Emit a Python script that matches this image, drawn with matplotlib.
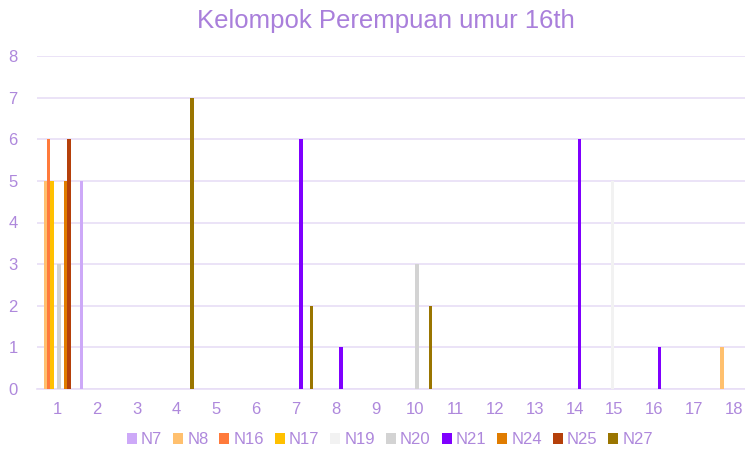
import numpy as np
import matplotlib.pyplot as plt

plt.rcParams["font.family"] = ["Liberation Sans", "DejaVu Sans"]

kategori = list(range(1, 19))

# nilai tiap seri per kategori (1..18)
n7 = [0, 5, 0, 0, 0, 0, 0, 0, 0, 0, 0, 0, 0, 0, 0, 0, 0, 0]
n8 = [5, 0, 0, 0, 0, 0, 0, 0, 0, 0, 0, 0, 0, 0, 0, 0, 0, 1]
n16 = [6, 0, 0, 0, 0, 0, 0, 0, 0, 0, 0, 0, 0, 0, 0, 0, 0, 0]
n17 = [5, 0, 0, 0, 0, 0, 0, 0, 0, 0, 0, 0, 0, 0, 0, 0, 0, 0]
n19 = [0, 0, 0, 0, 0, 0, 0, 0, 0, 0, 0, 0, 0, 0, 5, 0, 0, 0]
n20 = [3, 0, 0, 0, 0, 0, 0, 0, 0, 3, 0, 0, 0, 0, 0, 0, 0, 0]
n21 = [0, 0, 0, 0, 0, 0, 6, 1, 0, 0, 0, 0, 0, 6, 0, 1, 0, 0]
n24 = [5, 0, 0, 0, 0, 0, 0, 0, 0, 0, 0, 0, 0, 0, 0, 0, 0, 0]
n25 = [6, 0, 0, 0, 0, 0, 0, 0, 0, 0, 0, 0, 0, 0, 0, 0, 0, 0]
n27 = [0, 0, 0, 7, 0, 0, 2, 0, 0, 2, 0, 0, 0, 0, 0, 0, 0, 0]

seri = [
    ("N7", n7, "#CDA9F8"),
    ("N8", n8, "#FFC06E"),
    ("N16", n16, "#FF7A3B"),
    ("N17", n17, "#FFC000"),
    ("N19", n19, "#F2F2F2"),
    ("N20", n20, "#D3D3D3"),
    ("N21", n21, "#7F00FF"),
    ("N24", n24, "#E07C00"),
    ("N25", n25, "#B5400A"),
    ("N27", n27, "#9A7500"),
]

warna_teks = "#AE88DC"
warna_grid = "#E8DEF6"

fig = plt.figure(figsize=(7.45, 4.53), dpi=100)
ax = fig.add_axes([37.3 / 745, 64 / 453, (753.8 - 37.3) / 745, (389 - 56) / 453])

x = np.arange(len(kategori))
lebar = 0.0855
for i, (nama, nilai, warna) in enumerate(seri):
    ax.bar(x + (i - 4.5) * lebar, nilai, width=lebar, color=warna, label=nama, zorder=3)

ax.set_xlim(-0.5, len(kategori) - 0.5)
ax.set_ylim(0, 8)
ax.set_xticks(x)
ax.set_xticklabels([str(k) for k in kategori])
ax.set_yticks(range(0, 9))

ax.grid(axis="y", color=warna_grid, linewidth=1.2, zorder=0)
for s in ["top", "right", "left"]:
    ax.spines[s].set_visible(False)
ax.spines["bottom"].set_color(warna_grid)
ax.spines["bottom"].set_linewidth(1.2)
ax.tick_params(axis="both", length=0, colors=warna_teks, labelsize=12)
ax.tick_params(axis="x", pad=9)
ax.tick_params(axis="y", pad=14)

fig.text(386 / 745, 1 - 21 / 453, "Kelompok Perempuan umur 16th",
         ha="center", va="center", fontsize=18.5, color="#A97FDB")

leg = fig.legend(loc="center", bbox_to_anchor=(390 / 745, 1 - 440 / 453), ncol=10,
                 frameon=False, fontsize=12, handlelength=0.6, handleheight=0.6,
                 handletextpad=0.25, columnspacing=0.65)
for t in leg.get_texts():
    t.set_color(warna_teks)

fig.savefig("out.png", dpi=100)
